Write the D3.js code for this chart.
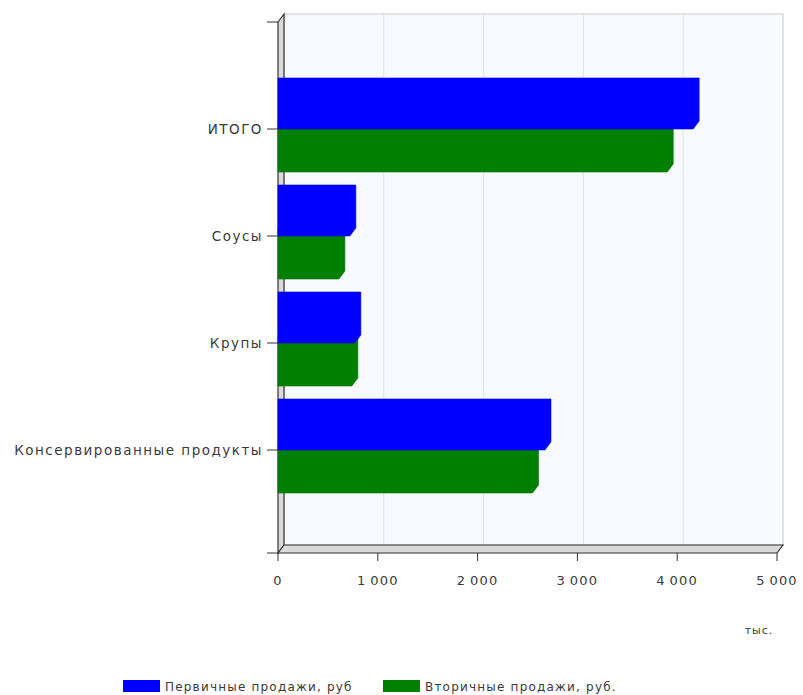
<!DOCTYPE html>
<html lang="ru">
<head>
<meta charset="UTF-8">
<script src="https://d3js.org/d3.v7.min.js"></script>
<style>
  body { margin: 0; background: #fff; }
  svg text { font-family: "DejaVu Sans", Verdana, sans-serif; fill: #3a3a3a; }
</style>
</head>
<body>
<div id="chart"></div>
<script>
// Data (тыс. руб)
const categories = ["ИТОГО", "Соусы", "Крупы", "Консервированные продукты"];
const seriesNames = ["Первичные продажи, руб", "Вторичные продажи, руб."];
const primary = [4160, 720, 770, 2675];
const secondary = [3900, 610, 740, 2550];
const xTicks = [0, 1000, 2000, 3000, 4000, 5000];
const colors = ["#0000ff", "#008000"];

const width = 803, height = 695;
const dx = 6, dy = -8; // 3D depth offset

const svg = d3.select("#chart").append("svg")
  .attr("width", width)
  .attr("height", height);

// Scales
const x = d3.scaleLinear().domain([0, 5000]).range([278, 777]);
const y = d3.scaleBand().domain(categories).range([22, 557]).paddingOuter(0.5).paddingInner(0);
const ySub = d3.scaleBand().domain([0, 1]).range([-43, 43]);

const plotTop = 22, plotBottom = 553;

// Back wall
svg.append("rect")
  .attr("x", x(0) + dx).attr("y", plotTop + dy)
  .attr("width", x(5000) - x(0)).attr("height", plotBottom - plotTop)
  .attr("fill", "#f7fbff")
  .attr("stroke", "#c9c9c9");

// Grid lines on back wall
svg.append("g").selectAll("line")
  .data(xTicks.slice(1, -1))
  .join("line")
  .attr("x1", d => x(d) + dx).attr("x2", d => x(d) + dx)
  .attr("y1", plotTop + dy).attr("y2", plotBottom + dy)
  .attr("stroke", "#dde2e8");

// Left wall
svg.append("path")
  .attr("d", `M${x(0)},${plotTop} L${x(0) + dx},${plotTop + dy} L${x(0) + dx},${plotBottom + dy} L${x(0)},${plotBottom} Z`)
  .attr("fill", "#d9d9d9")
  .attr("stroke", "#333")
  .attr("stroke-width", 1.2);

// Floor
svg.append("path")
  .attr("d", `M${x(0)},${plotBottom} L${x(0) + dx},${plotBottom + dy} L${x(5000) + dx},${plotBottom + dy} L${x(5000)},${plotBottom} Z`)
  .attr("fill", "#d9d9d9")
  .attr("stroke", "#333")
  .attr("stroke-width", 1.2);

// Bars
const rows = [];
categories.forEach((c, i) => {
  rows.push({ cat: c, s: 0, v: primary[i] });
  rows.push({ cat: c, s: 1, v: secondary[i] });
});

function barPath(d) {
  const x0 = x(0), x1 = x(d.v);
  const y0 = y(d.cat) + y.bandwidth() / 2 + ySub(d.s);
  const y1 = y0 + ySub.bandwidth();
  return `M${x0},${y0 + dy} L${x1 + dx},${y0 + dy} L${x1 + dx},${y1 + dy} L${x1},${y1} L${x0},${y1} Z`;
}

// draw secondary first so the primary sits in front of its top face
svg.append("g").selectAll("path")
  .data(rows.filter(d => d.s === 1).concat(rows.filter(d => d.s === 0)))
  .join("path")
  .attr("d", barPath)
  .attr("fill", d => colors[d.s])
  .attr("stroke", d => d3.color(colors[d.s]).darker(0.4))
  .attr("stroke-width", 0.6);

// Category axis ticks and labels
const yAxis = svg.append("g");
const yTickPos = [plotTop, plotBottom].concat(categories.map(c => y(c) + y.bandwidth() / 2));
yAxis.selectAll("line")
  .data(yTickPos)
  .join("line")
  .attr("x1", 267).attr("x2", x(0))
  .attr("y1", d => d).attr("y2", d => d)
  .attr("stroke", "#333");
yAxis.selectAll("text")
  .data(categories)
  .join("text")
  .attr("x", 263)
  .attr("y", d => y(d) + y.bandwidth() / 2)
  .attr("dy", "0.35em")
  .attr("text-anchor", "end")
  .attr("font-size", 13.5)
  .attr("letter-spacing", 1.5)
  .text(d => d);

// Value axis ticks and labels
const xAxis = svg.append("g");
xAxis.selectAll("line")
  .data(xTicks)
  .join("line")
  .attr("x1", d => x(d)).attr("x2", d => x(d))
  .attr("y1", plotBottom).attr("y2", plotBottom + 8)
  .attr("stroke", "#333");
xAxis.selectAll("text")
  .data(xTicks)
  .join("text")
  .attr("x", d => x(d))
  .attr("y", 585)
  .attr("text-anchor", "middle")
  .attr("font-size", 13)
  .attr("letter-spacing", 1.2)
  .text(d => d3.format(",")(d).replace(/,/g, "\u2009"));

// Unit label
svg.append("text")
  .attr("x", 759).attr("y", 634)
  .attr("text-anchor", "middle")
  .attr("font-size", 11)
  .attr("letter-spacing", 1)
  .text("тыс.");

// Legend
const legend = svg.append("g");
const legendX = [123, 383];
seriesNames.forEach((name, i) => {
  legend.append("rect")
    .attr("x", legendX[i]).attr("y", 680)
    .attr("width", 37).attr("height", 12)
    .attr("fill", colors[i]);
  legend.append("text")
    .attr("x", legendX[i] + 42).attr("y", 691)
    .attr("font-size", 12)
    .attr("letter-spacing", 1.2)
    .text(name);
});
</script>
</body>
</html>
